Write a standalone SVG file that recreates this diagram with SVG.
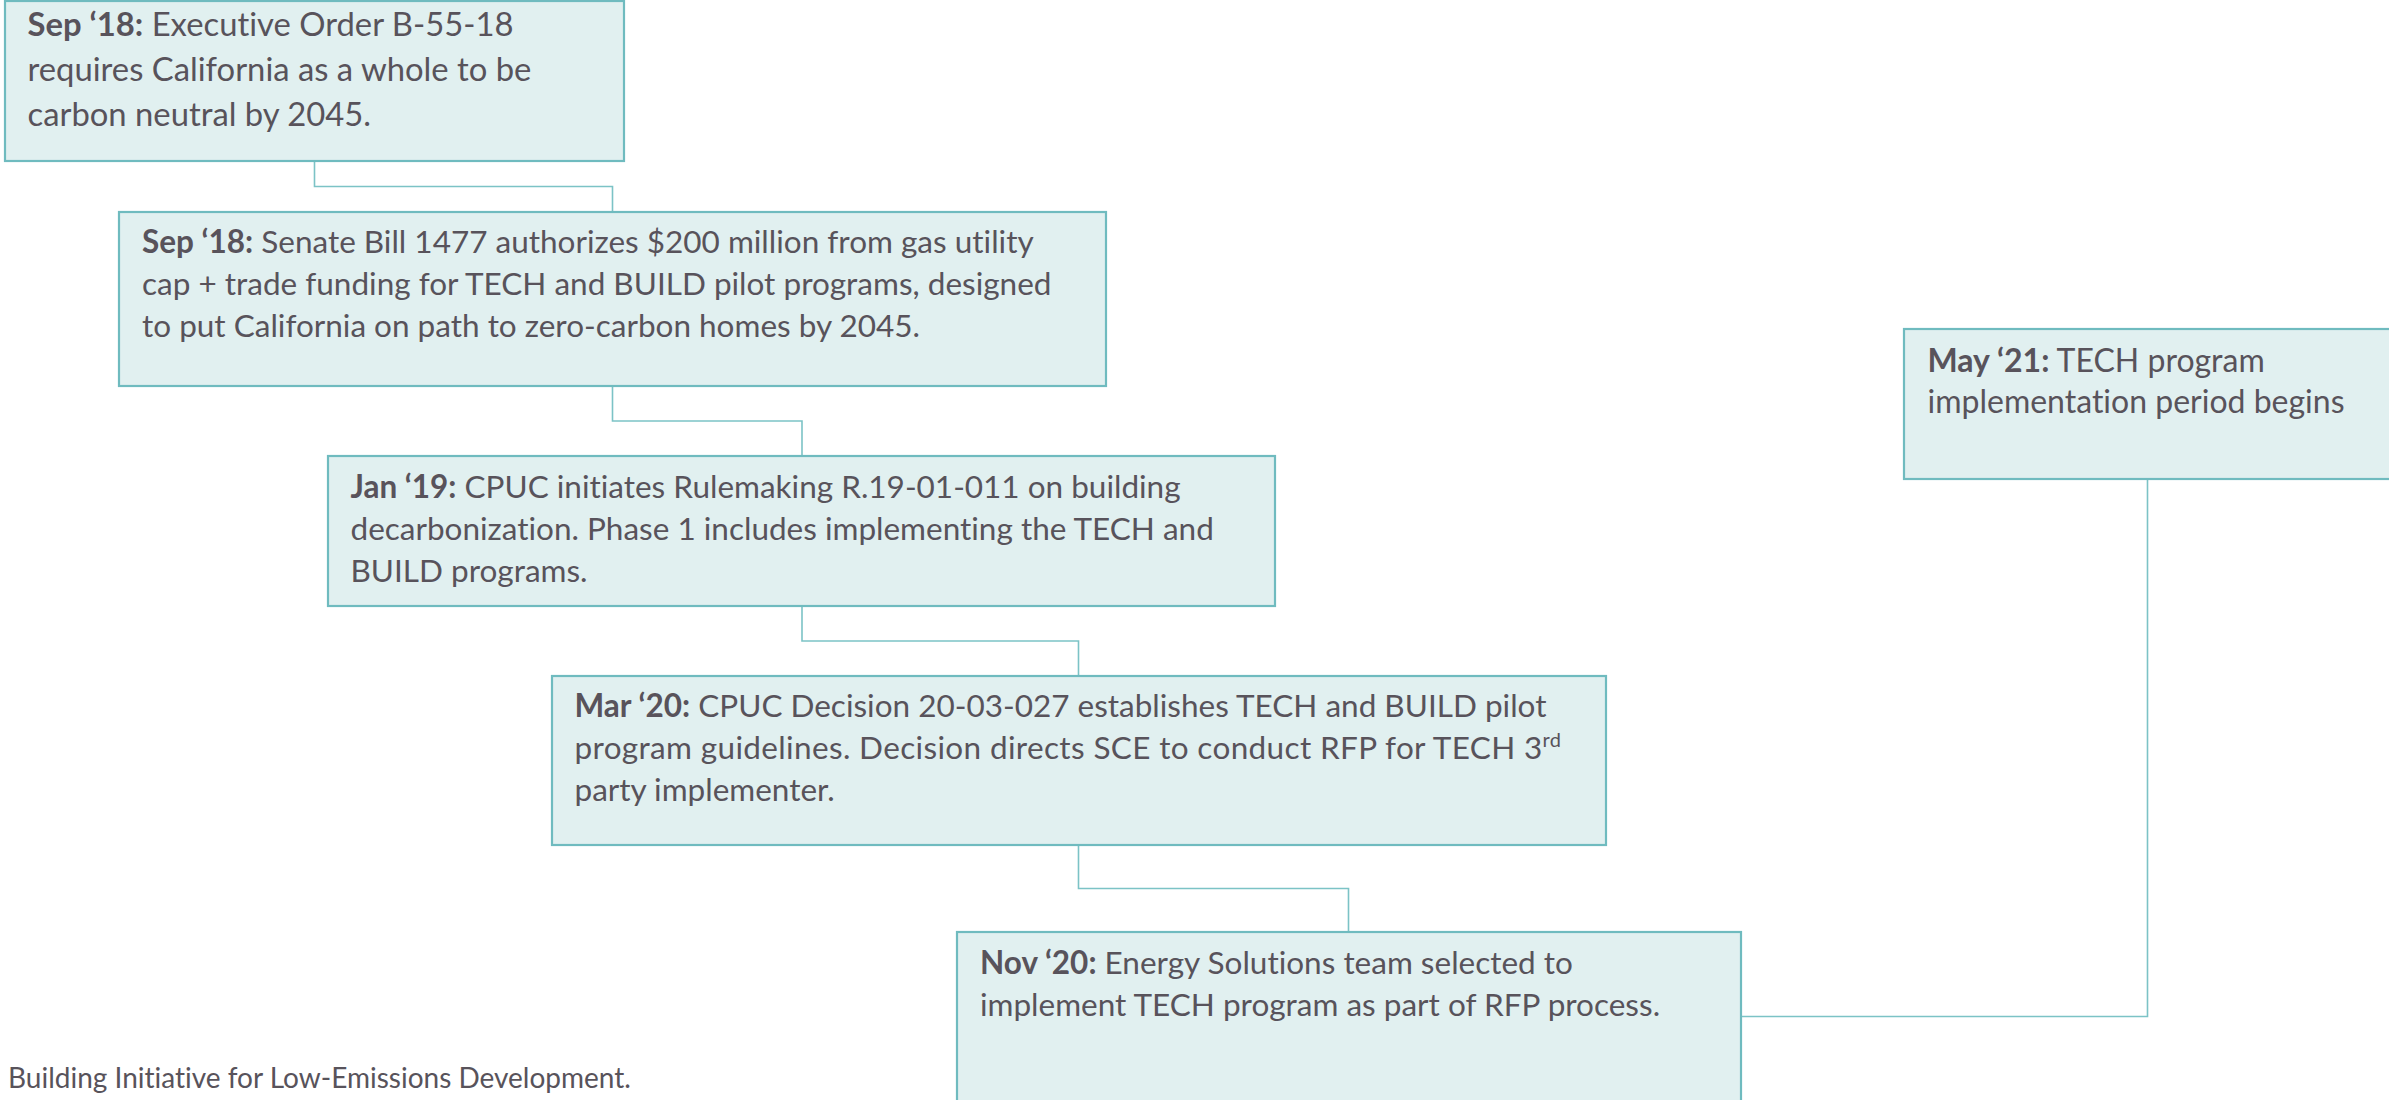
<svg xmlns="http://www.w3.org/2000/svg" width="2389" height="1100" viewBox="0 0 2389 1100">
<style>
.box{fill:#E1F0F0;stroke:#6FBBBF;stroke-width:2.2}
.t{font-family:Lato,"Liberation Sans",sans-serif;font-size:31.5px;fill:#58535B;font-variant-ligatures:none}
.t1{font-size:32.8px}
.t6{font-size:32px}
.b{font-weight:bold}
.conn{fill:none;stroke:#7CC3C6;stroke-width:1.6}
.foot{font-family:Lato,"Liberation Sans",sans-serif;font-size:28px;fill:#58535B;font-variant-ligatures:none}
</style>
<rect width="2389" height="1100" fill="#FFFFFF"/>
<g id="connectors">
<polyline class="conn" points="314.5,161 314.5,186.5 612.5,186.5 612.5,212"/>
<polyline class="conn" points="612.5,386 612.5,421 802,421 802,456"/>
<polyline class="conn" points="802,606 802,641 1078.5,641 1078.5,676"/>
<polyline class="conn" points="1078.5,845 1078.5,888.5 1348.5,888.5 1348.5,932"/>
<polyline class="conn" points="1741,1016.5 2147.5,1016.5 2147.5,479"/>
</g>
<g id="node1">
<rect class="box" x="5" y="1" width="619" height="160"/>
<text class="t t1" x="27.5" y="36"><tspan class="b">Sep ‘18:</tspan> Executive Order B-55-18</text>
<text class="t t1" x="27.5" y="81">requires California as a whole to be</text>
<text class="t t1" x="27.5" y="126">carbon neutral by 2045.</text>
</g>
<g id="node2">
<rect class="box" x="119" y="212" width="987" height="174"/>
<text class="t" x="142" y="253"><tspan class="b">Sep ‘18:</tspan> Senate Bill 1477 authorizes $200 million from gas utility</text>
<text class="t" x="142" y="295">cap + trade funding for TECH and BUILD pilot programs, designed</text>
<text class="t" x="142" y="337">to put California on path to zero-carbon homes by 2045.</text>
</g>
<g id="node3">
<rect class="box" x="328" y="456" width="947" height="150"/>
<text class="t" x="350.5" y="498"><tspan class="b">Jan ‘19:</tspan> CPUC initiates Rulemaking R.19-01-011 on building</text>
<text class="t" x="350.5" y="540">decarbonization. Phase 1 includes implementing the TECH and</text>
<text class="t" x="350.5" y="582">BUILD programs.</text>
</g>
<g id="node4">
<rect class="box" x="552" y="676" width="1054" height="169"/>
<text class="t" x="574.5" y="717"><tspan class="b">Mar ‘20:</tspan> CPUC Decision 20-03-027 establishes TECH and BUILD pilot</text>
<text class="t" x="574.5" y="759" letter-spacing="0.35">program guidelines. Decision directs SCE to conduct RFP for TECH 3<tspan font-size="20" dy="-12">rd</tspan></text>
<text class="t" x="574.5" y="801">party implementer.</text>
</g>
<g id="node5">
<rect class="box" x="957" y="932" width="784" height="190"/>
<text class="t" x="980" y="974"><tspan class="b">Nov ‘20:</tspan> Energy Solutions team selected to</text>
<text class="t" x="980" y="1016">implement TECH program as part of RFP process.</text>
</g>
<g id="node6">
<rect class="box" x="1904" y="329" width="500" height="150"/>
<text class="t t6" x="1927.5" y="372"><tspan class="b">May ‘21:</tspan> TECH program</text>
<text class="t t6" x="1927.5" y="413">implementation period begins</text>
</g>
<text class="foot" x="8" y="1088">Building Initiative for Low-Emissions Development.</text>
</svg>
